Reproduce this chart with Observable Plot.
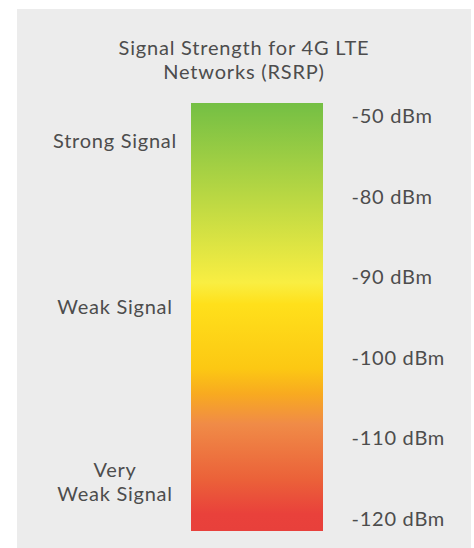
<!DOCTYPE html>
<html>
<head>
<meta charset="utf-8">
<script src="https://cdn.jsdelivr.net/npm/d3@7"></script>
<script src="https://cdn.jsdelivr.net/npm/@observablehq/plot@0.6"></script>
<style>
  html, body { margin: 0; padding: 0; background: #ffffff; }
  #panel {
    position: absolute; left: 17px; top: 9px; width: 454px; height: 539px;
    background: #ececec; overflow: hidden;
    font-family: Lato, "Open Sans", sans-serif; color: #4d4d4d;
  }
  #title {
    padding-top: 26px; text-align: center; font-size: 20px; line-height: 24px;
    letter-spacing: 0.8px; height: 48px;
  }
  #chart svg { display: block; }
</style>
</head>
<body>
<div id="panel">
  <div id="title">Signal Strength for 4G LTE<br>Networks (RSRP)</div>
  <div id="chart"></div>
</div>
<script>
// Tick labels (evenly spaced on the bar)
const tickLabels = ["-50 dBm", "-80 dBm", "-90 dBm", "-100 dBm", "-110 dBm", "-120 dBm"];
// Category labels on the left and the tick each one sits near
const categoryLabels = ["Strong Signal", "Weak Signal", "Very\nWeak Signal"];
const categoryAnchors = ["-50 dBm", "-90 dBm", "-120 dBm"];
// Gradient stops (top = strong, bottom = very weak)
const gradOffsets = [0, 0.42, 0.47, 0.62, 0.68, 0.75, 0.88, 0.96, 1];
const gradColors = ["#74bf44", "#f9ee42", "#ffe01b", "#fcc813", "#f8aa20", "#f08b47", "#eb6139", "#e9413b", "#e8403b"];

const barData = [{top: tickLabels[0], bottom: tickLabels[tickLabels.length - 1]}];
const catData = categoryLabels.map((label, i) => ({label, anchor: categoryAnchors[i]}));
const catDy = [23.6, 29, -38];

const svg = Plot.plot({
  width: 454,
  height: 465,
  marginTop: 33,
  marginBottom: 29,
  marginLeft: 174,
  marginRight: 148,
  style: {fontFamily: "Lato, 'Open Sans', sans-serif", fontSize: "20px", color: "#4d4d4d", background: "transparent", letterSpacing: "0.75px"},
  y: {type: "point", domain: tickLabels, padding: 0, round: false},
  marks: [
    Plot.rect(barData, {y1: "top", y2: "bottom", fill: "url(#signal-grad)", insetTop: -13, insetBottom: -12}),
    Plot.axisY({anchor: "right", tickSize: 0, tickPadding: 28, fontSize: 20, fill: "#4d4d4d", label: null}),
    ...catData.map((d, i) => Plot.text([d], {
      y: "anchor", text: "label", frameAnchor: "left", dx: -76.5, dy: catDy[i],
      textAnchor: "middle", fontSize: 20, lineHeight: 1.2, fill: "#4d4d4d"
    }))
  ]
});

const grad = d3.select(svg).insert("defs", ":first-child")
  .append("linearGradient")
  .attr("id", "signal-grad")
  .attr("x1", 0).attr("y1", 0).attr("x2", 0).attr("y2", 1);
gradOffsets.forEach((o, i) => {
  grad.append("stop").attr("offset", o).attr("stop-color", gradColors[i]);
});

document.getElementById("chart").appendChild(svg);
</script>
</body>
</html>
